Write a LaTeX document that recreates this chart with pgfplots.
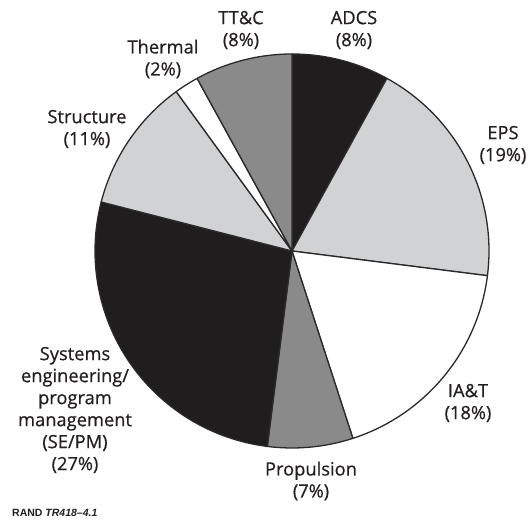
\documentclass[border=0pt]{standalone}
\usepackage{pgfplots}
\pgfplotsset{compat=1.18}
\usepackage{fontspec}
\setmainfont{Open Sans}
\newfontfamily\labfont{Open Sans}[FakeBold=0.6]
\newfontfamily\randfont{Liberation Sans}
\definecolor{dk}{HTML}{1F1D1E}
\definecolor{lt}{HTML}{D1D2D3}
\definecolor{md}{HTML}{8A8A8B}
\definecolor{edge}{HTML}{2A2A2A}
\definecolor{txt}{HTML}{231F20}
\begin{document}
\begin{tikzpicture}
\begin{axis}[width=528bp,height=520bp,scale only axis,
  xmin=0,xmax=528,ymin=0,ymax=520,hide axis,clip=false]
\addplot[draw=none] coordinates {(0,0) (528,520)};
% shares in percent, clockwise from the top
\foreach \v/\col [evaluate=\v as \e using \s-3.6*\v, remember=\e as \s (initially 90)] in
  {8/dk,19/lt,18/white,7/md,27/dk,11/lt,2/white,8/md}{
  \edef\temp{\noexpand\filldraw[fill=\col,draw=edge,line width=1.3bp,line join=round]
    (axis cs:292,269) -- ++(\s:197bp) arc[start angle=\s,end angle=\e,radius=197bp] -- cycle;}
  \temp
}
\tikzset{lab/.style={align=center,text=txt,font=\labfont\fontsize{18.3bp}{22bp}\selectfont,inner sep=0pt}}
\node[lab] at (axis cs:241,490) {TT\&C\\(8\%)};
\node[lab] at (axis cs:354,490) {ADCS\\(8\%)};
\node[lab] at (axis cs:163,461) {Thermal\\(2\%)};
\node[lab] at (axis cs:87,391) {Structure\\(11\%)};
\node[lab] at (axis cs:503,375) {EPS\\(19\%)};
\node[lab] at (axis cs:468,117) {IA\&T\\(18\%)};
\node[lab] at (axis cs:311,39) {Propulsion\\(7\%)};
\node[lab] at (axis cs:75,110) {Systems\\engineering/\\program\\management\\(SE/PM)\\(27\%)};
\node[anchor=base west,inner sep=0pt,text=txt,font=\randfont\bfseries\fontsize{10.5bp}{12bp}\selectfont] at (axis cs:12,3) {RAND \textit{TR418–4.1}};
\end{axis}
\end{tikzpicture}
\end{document}
